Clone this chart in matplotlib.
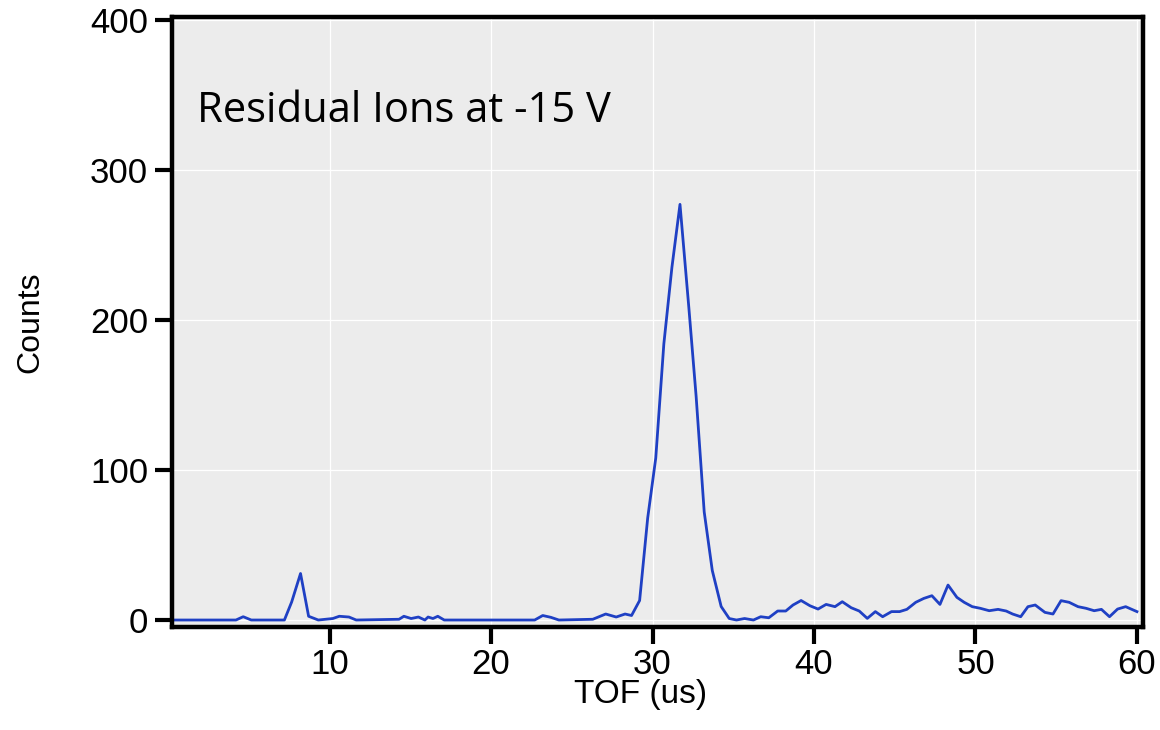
import matplotlib
matplotlib.use("Agg")
import matplotlib.pyplot as plt

# TOF spectrum (us, counts)
tof = [0.2, 4.2, 4.65, 5.15, 7.2, 7.65, 8.2, 8.7, 9.3, 10.2, 10.6, 11.2, 11.65,
       14.3, 14.6, 15.05, 15.5, 15.9, 16.1, 16.4, 16.7, 17.1, 22.7, 23.2, 23.7,
       24.2, 26.3, 27.1, 27.75, 28.3, 28.7, 29.2, 29.7, 30.2, 30.7, 31.2, 31.7,
       32.25, 32.7, 33.2, 33.7, 34.25, 34.75, 35.2, 35.7, 36.25, 36.7, 37.2,
       37.75, 38.25, 38.7, 39.2, 39.75, 40.25, 40.75, 41.3, 41.75, 42.3, 42.8,
       43.3, 43.8, 44.25, 44.8, 45.3, 45.75, 46.3, 46.8, 47.3, 47.8, 48.3, 48.85,
       49.3, 49.8, 50.3, 50.85, 51.4, 51.9, 52.3, 52.8, 53.25, 53.7, 54.3, 54.8,
       55.3, 55.8, 56.35, 56.85, 57.35, 57.8, 58.3, 58.8, 59.3, 60.0]
counts = [0, 0, 2.2, 0, 0, 12, 31, 2.5, 0, 1, 2.5, 2, 0,
          0.5, 2.5, 1, 2, 0, 2, 1, 2.5, 0, 0, 3, 1.8,
          0, 0.5, 4, 2, 4, 3, 13, 68, 108, 184, 235, 277,
          208, 149, 72, 33, 9, 1, 0, 1, 0, 2.2, 1.5,
          6, 6, 10, 13, 9.5, 7.3, 10.4, 8.9, 12.2, 8.2, 6,
          1.1, 5.6, 2.2, 5.6, 5.6, 7.1, 11.8, 14.4, 16.2, 10.4, 23.3, 15.1,
          11.8, 8.9, 7.8, 6.2, 7.1, 6, 4, 2.2, 8.9, 10, 5.1, 4,
          12.9, 11.8, 8.9, 7.8, 6.2, 7.1, 2.2, 7.3, 8.9, 5.6]

x_ticks = [10, 20, 30, 40, 50, 60]
y_ticks = [0, 100, 200, 300, 400]

fig = plt.figure(figsize=(11.6, 7.3), dpi=100)
ax = fig.add_axes([0.148, 0.141, 0.837, 0.836])
ax.set_facecolor("#ececec")
ax.grid(True, color="white", linewidth=0.9)
ax.set_axisbelow(True)

ax.plot(tof, counts, color="#1f40c4", linewidth=2.0)

ax.set_xlim(0.22, 60.35)
ax.set_ylim(-4.7, 402)
ax.set_xticks(x_ticks)
ax.set_yticks(y_ticks)

for s in ax.spines.values():
    s.set_linewidth(3.2)
    s.set_color("black")

ax.tick_params(axis="both", direction="out", length=12, width=3,
               labelsize=25, pad=5, colors="black")
ax.tick_params(axis="x", pad=3)
for lab in ax.get_xticklabels() + ax.get_yticklabels():
    lab.set_family("Liberation Sans")

ax.set_xlabel("TOF (us)", fontsize=24, family="Liberation Sans")
ax.set_ylabel("Counts", fontsize=23, family="Liberation Sans")
ax.xaxis.set_label_coords(0.483, -0.085)
ax.yaxis.set_label_coords(-0.13, 0.5)

ax.text(0.026, 0.846, "Residual Ions at -15 V", transform=ax.transAxes,
        fontsize=30, family="Open Sans", va="center", ha="left")

fig.savefig("out.png", dpi=100)
